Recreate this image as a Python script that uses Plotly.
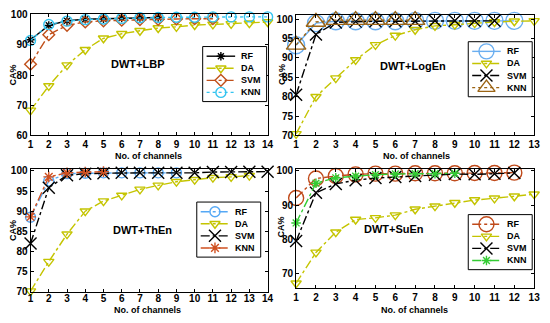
import plotly.graph_objects as go

# ---------------- data ----------------
lbp_x = list(range(1, 15))
lbp_rf = [91.7, 96.5, 98.0, 98.5, 98.7, 98.9, 99.1, 99.1]
lbp_da = [68.3, 76.4, 83.3, 88.4, 92.2, 93.7, 94.7, 95.6, 96.0, 96.6, 96.8, 97.0, 97.2, 97.6]
lbp_svm = [83.6, 93.4, 96.5, 97.6, 98.0, 98.2, 98.4, 98.5, 98.6, 98.7, 98.7]
lbp_knn = [91.5, 96.8, 97.9, 98.4, 98.6, 98.8, 99.0, 99.1, 99.2, 99.2, 99.3, 99.3, 99.3, 99.3]

log_x = list(range(1, 14))
log_rf = [93.3, 99.0, 99.5, 99.5, 99.5, 99.5, 99.6, 99.6, 99.6, 99.6, 99.6, 99.6]
log_da = [70.4, 80.0, 84.8, 89.5, 93.4, 95.8, 97.3, 98.3, 98.6, 99.0, 99.3, 99.5, 99.6]
log_svm = [80.5, 96.1, 99.2, 99.4, 99.5, 99.5, 99.5, 99.6, 99.6, 99.6, 99.6]
log_knn = [93.4, 99.3, 99.8, 99.8, 99.8, 99.8, 99.8]

then_x = list(range(1, 15))
then_rf = [88.5, 97.5, 99.3, 99.4, 99.5, 99.5, 99.5, 99.5, 99.5]
then_da = [70.2, 77.5, 84.3, 90.0, 92.5, 93.9, 95.4, 96.4, 97.3, 97.8, 98.3, 98.5, 98.8]
then_svm = [82.0, 95.8, 98.9, 99.3, 99.4, 99.5, 99.5, 99.5, 99.5, 99.5, 99.7, 99.7, 99.8, 99.8]
then_knn = [88.6, 98.5, 99.5, 99.7, 99.8]

suen_x = list(range(1, 14))
suen_rf = [92.1, 97.8, 98.5, 99.0, 99.2, 99.2, 99.3, 99.3, 99.3, 99.4, 99.4, 99.5]
suen_da = [67.2, 76.2, 82.1, 85.8, 86.3, 87.1, 88.8, 89.7, 90.7, 91.5, 92.0, 92.6, 93.2]
suen_svm = [79.5, 93.6, 96.2, 97.3, 97.9, 98.2, 98.5, 98.9, 99.1, 99.0, 99.2, 99.4]
suen_knn = [84.8, 96.4, 98.0, 98.5, 98.9, 99.1, 99.2, 99.2, 99.3]

classifiers = ["RF", "DA", "SVM", "KNN"]
titles = ["DWT+LBP", "DWT+LogEn", "DWT+ThEn", "DWT+SuEn"]
x_title = "No. of channels"
y_title = "CA%"

# ---------------- style ----------------
W, H = 550, 323
FONT = "Liberation Sans, Arial, sans-serif"
DA_C = "#c4c400"

def px(v):
    return v / W

def py(v):
    return 1 - v / H

panels = [
    dict(x=lbp_x, data=[lbp_rf, lbp_da, lbp_svm, lbp_knn],
         style=[("#000000", "solid", "asterisk-open", 7),
                (DA_C, "dashdot", "triangle-down-open", 9),
                ("#c0501a", "dashdot", "diamond-open", 9),
                ("#33c4f0", "dot", "circle-open", 10)],
         xdom=[px(28), px(269)], ydom=[py(135), py(9.5)], yr=[60, 100.2],
         ytick=[60, 70, 80, 90, 100], xr=[1, 14], tls=0,
         leg=(203, 43), title=(137, 61), xt=(148, 156), yt=(10, 72)),
    dict(x=log_x, data=[log_rf, log_da, log_svm, log_knn],
         style=[("#6aaef0", "solid", "circle-open", 17),
                (DA_C, "dashdot", "triangle-down-open", 9),
                ("#000000", "dashdot", "x-thin-open", 12),
                ("#9c6414", "dot", "triangle-up-open", 17)],
         xdom=[px(298), px(540)], ydom=[py(135), py(10)], yr=[70, 101.2],
         ytick=[70, 75, 80, 85, 90, 95, 100], xr=[1, 13], tls=0,
         leg=(473, 38), title=(417, 63), xt=(420, 156), yt=(283, 72)),
    dict(x=then_x, data=[then_rf, then_da, then_svm, then_knn],
         style=[("#55a8f5", "dashdot", "circle-open", 10),
                (DA_C, "dashdot", "triangle-down-open", 9),
                ("#000000", "dashdot", "x-thin-open", 12),
                ("#d05020", "dashdot", "asterisk-open", 9)],
         xdom=[px(28), px(269)], ydom=[py(297), py(170)], yr=[70, 100.4],
         ytick=[70, 75, 80, 85, 90, 95, 100], xr=[1, 14], tls=-3,
         leg=(197, 204), title=(142, 233), xt=(147, 316), yt=(10, 233)),
    dict(x=suen_x, data=[suen_rf, suen_da, suen_svm, suen_knn],
         style=[("#c04a1a", "dashdot", "circle-open", 15),
                (DA_C, "dashdot", "triangle-down-open", 9),
                ("#000000", "dashdot", "x-thin-open", 12),
                ("#33cc33", "dashdot", "asterisk-open", 8)],
         xdom=[px(298), px(540)], ydom=[py(293), py(170)], yr=[65.8, 100.5],
         ytick=[70, 80, 90, 100], xr=[1, 13], tls=0,
         leg=(473, 217), title=(398, 232), xt=(418, 316), yt=(283, 230)),
]

fig = go.Figure()
annotations = []
tf = dict(family=FONT, size=10, color="black", weight="bold")
for i, p in enumerate(panels):
    n = i + 1
    xa = "x" if n == 1 else f"x{n}"
    ya = "y" if n == 1 else f"y{n}"
    for name, vals, (col, dash, sym, size) in zip(classifiers, p["data"], p["style"]):
        fig.add_trace(go.Scatter(
            x=p["x"][:len(vals)], y=vals, name=name, mode="lines+markers",
            line=dict(color=col, dash=dash, width=1.4),
            marker=dict(symbol=sym, size=size, color=col, line=dict(width=1.4, color=col)),
            xaxis=xa, yaxis=ya, showlegend=False, cliponaxis=False,
        ))
    axis_common = dict(showline=True, linecolor="black", linewidth=1, mirror="ticks",
                       ticks="inside", ticklen=3, tickcolor="black", showgrid=False,
                       zeroline=False, tickfont=tf)
    fig.layout[f"xaxis{'' if n == 1 else n}"] = dict(
        domain=p["xdom"], anchor=ya, range=p["xr"], tickmode="array", tickvals=p["x"],
        ticklabelstandoff=p["tls"], **axis_common)
    fig.layout[f"yaxis{'' if n == 1 else n}"] = dict(
        domain=p["ydom"], anchor=xa, range=p["yr"], tickmode="array", tickvals=p["ytick"],
        **axis_common)
    annotations.append(dict(
        text=titles[i], x=px(p["title"][0]), y=py(p["title"][1]), xref="paper", yref="paper",
        showarrow=False, xanchor="center", yanchor="middle",
        font=dict(family=FONT, size=11, color="black", weight="bold")))
    annotations.append(dict(
        text=x_title, x=px(p["xt"][0]), y=py(p["xt"][1]), xref="paper", yref="paper",
        showarrow=False, xanchor="center", yanchor="middle",
        font=dict(family=FONT, size=9, color="black", weight="bold")))
    annotations.append(dict(
        text=y_title, x=px(p["yt"][0]), y=py(p["yt"][1]), xref="paper", yref="paper",
        showarrow=False, xanchor="center", yanchor="middle", textangle=-90,
        font=dict(family=FONT, size=9, color="black", weight="bold")))

# ---------------- custom compact legends (pixel overlay axis) ----------------
LW, LH = 65, 57
for p in panels:
    bx, by = p["leg"]
    fig.add_trace(go.Scatter(
        x=[bx, bx + LW, bx + LW, bx, bx], y=[by, by, by + LH, by + LH, by],
        mode="lines", fill="toself", fillcolor="white", line=dict(color="black", width=1),
        xaxis="x5", yaxis="y5", showlegend=False, hoverinfo="skip"))
    for k, (name, (col, dash, sym, size)) in enumerate(zip(classifiers, p["style"])):
        iy = by + 10 + k * 12.5
        fig.add_trace(go.Scatter(
            x=[bx + 4, bx + 33], y=[iy, iy], mode="lines",
            line=dict(color=col, dash=dash, width=1.4),
            xaxis="x5", yaxis="y5", showlegend=False, hoverinfo="skip"))
        fig.add_trace(go.Scatter(
            x=[bx + 18.5], y=[iy], mode="markers",
            marker=dict(symbol=sym, size=min(size, 15), color=col, line=dict(width=1.4, color=col)),
            xaxis="x5", yaxis="y5", showlegend=False, hoverinfo="skip", cliponaxis=False))
        annotations.append(dict(
            text=name, x=bx + 37, y=iy, xref="x5", yref="y5", showarrow=False,
            xanchor="left", yanchor="middle",
            font=dict(family=FONT, size=9, color="black", weight="bold")))

fig.update_layout(
    width=W, height=H, margin=dict(l=0, r=0, t=0, b=0),
    plot_bgcolor="rgba(0,0,0,0)", paper_bgcolor="white", showlegend=False,
    annotations=annotations,
    xaxis5=dict(domain=[0, 1], range=[0, W], visible=False, fixedrange=True, anchor="y5"),
    yaxis5=dict(domain=[0, 1], range=[H, 0], visible=False, fixedrange=True, anchor="x5"),
)
fig.write_html("out.html", config={"displayModeBar": False},
               post_script="document.body.style.margin='0px';document.body.style.overflow='hidden';")
